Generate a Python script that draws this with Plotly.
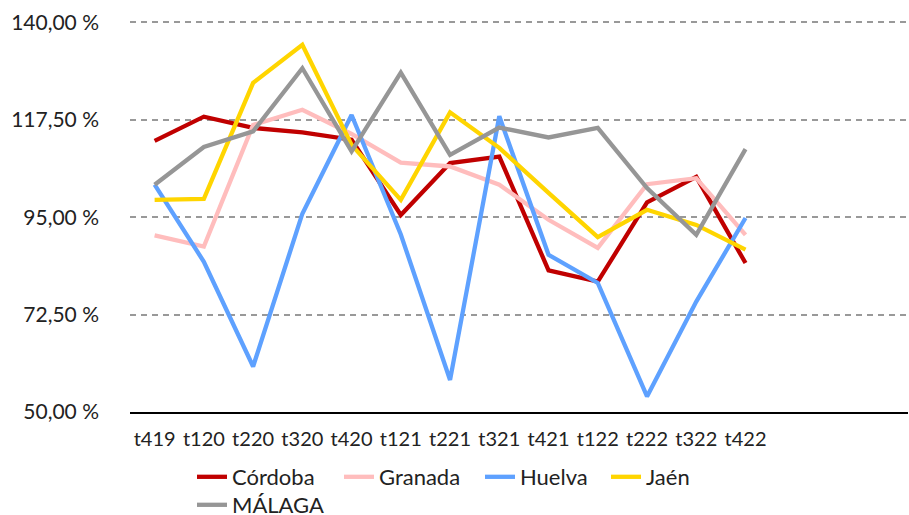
import plotly.graph_objects as go

categories = ["t419", "t120", "t220", "t320", "t420", "t121", "t221", "t321", "t421", "t122", "t222", "t322", "t422"]

cordoba = [112.6, 118.2, 115.6, 114.6, 112.9, 95.5, 107.5, 109.0, 82.7, 80.1, 98.4, 104.3, 84.4]
granada = [90.8, 88.2, 116.3, 119.8, 114.2, 107.6, 106.7, 102.5, 94.4, 87.9, 102.6, 104.0, 90.9]
huelva = [102.5, 84.7, 60.5, 95.8, 118.6, 91.0, 57.4, 118.3, 86.3, 79.8, 53.6, 75.5, 94.8]
jaen = [99.0, 99.2, 126.0, 134.8, 111.7, 99.0, 119.2, 111.0, 100.6, 90.4, 96.7, 93.2, 87.5]
malaga = [102.5, 111.2, 114.8, 129.4, 110.2, 128.4, 109.4, 115.7, 113.4, 115.6, 101.7, 90.9, 110.7]

series_names = ["Córdoba", "Granada", "Huelva", "Jaén", "MÁLAGA"]
series_values = [cordoba, granada, huelva, jaen, malaga]
series_colors = ["#C00000", "#FFBDBD", "#5EA1FF", "#FFD500", "#969696"]
legend_widths = [102, 96, 81, 60, 100]

y_tickvals = [50, 72.5, 95, 117.5, 140]
y_ticktext = ["50,00 %", "72,50 %", "95,00 %", "117,50 %", "140,00 %"]

FONT = "Lato"
TXT = "#222222"

fig = go.Figure()
for i, (name, vals, col, lw) in enumerate(zip(series_names, series_values, series_colors, legend_widths)):
    fig.add_trace(go.Scatter(
        x=categories, y=vals, name=name, mode="lines",
        line=dict(color=col, width=4.3),
        legend="legend2" if i == 4 else "legend",
        legendwidth=lw,
    ))

leg_common = dict(orientation="h", xref="container", yref="container",
                  xanchor="left", yanchor="middle",
                  font=dict(size=22, family=FONT, color=TXT), itemwidth=30,
                  bgcolor="rgba(0,0,0,0)", borderwidth=0, traceorder="normal")

fig.update_layout(
    width=909, height=515,
    margin=dict(l=130, r=1, t=21, b=103, autoexpand=False),
    paper_bgcolor="white", plot_bgcolor="white",
    font=dict(family=FONT, size=20, color=TXT),
    showlegend=True,
    legend=dict(x=192 / 909, y=1 - 477 / 515, **leg_common),
    legend2=dict(x=192 / 909, y=1 - 505 / 515, **leg_common),
)

fig.update_xaxes(
    type="category", categoryorder="array", categoryarray=categories,
    range=[-0.5, 15.3],
    showgrid=False, showline=True, linecolor="black", linewidth=2,
    ticks="", tickfont=dict(size=20, family=FONT, color=TXT),
    ticklabelstandoff=8,
    zeroline=False,
)
fig.update_yaxes(
    range=[50, 140.3], tickvals=y_tickvals, ticktext=y_ticktext,
    showgrid=True, gridcolor="#999999", gridwidth=2, griddash="6px,5px",
    showline=False, zeroline=False, ticks="",
    ticklabelstandoff=30,
    tickfont=dict(size=21, family=FONT, color=TXT),
)

fig.write_html("out.html", config={"displayModeBar": False},
               post_script="document.body.style.margin='0px';")
